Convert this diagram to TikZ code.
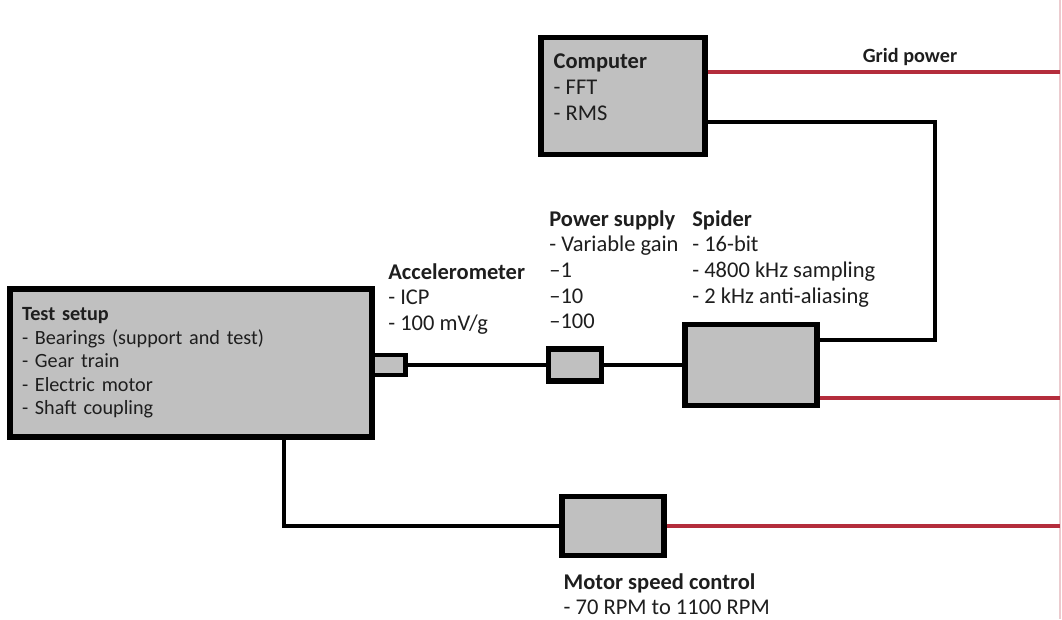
\documentclass[tikz,border=0pt]{standalone}
\usepackage{fontspec}
\setmainfont{Carlito}
\usepackage{tikz}
\usetikzlibrary{positioning, calc}
\definecolor{boxgray}{RGB}{192,192,192}
\definecolor{gridred}{RGB}{180,45,60}
\definecolor{textgray}{RGB}{30,30,30}

\begin{document}
\begin{tikzpicture}[
    x=0.02cm, y=-0.02cm,
    box/.style={draw, fill=boxgray, line width=3pt, inner sep=0pt},
    wire/.style={line width=2.3pt},
    power/.style={line width=2.3pt, draw=gridred},
    bus/.style={line width=0.8pt, draw=gridred!25},
    lbl/.style={align=left, inner sep=0pt, text=textgray,
                font=\fontsize{12.8}{14.6}\selectfont},
  ]
  \path[use as bounding box, fill=white] (0,0) rectangle (1062,619);

  % Equipment
  \node[box, minimum width=7.24cm, minimum height=2.96cm, text width=6.76cm,
        align=left, inner xsep=0.24cm, text=textgray,
        font=\fontsize{11.5}{13.4}\selectfont] (test) at (191,363)
        {\textbf{Test setup}\\- Bearings (support and test)\\- Gear train\\- Electric motor\\- Shaft coupling};
  \node[box, minimum width=0.66cm, minimum height=0.40cm, line width=2.4pt] (accel) at (389,365) {};
  \node[box, minimum width=1.06cm, minimum height=0.64cm] (psu) at (575,365) {};
  \node[box, minimum width=2.64cm, minimum height=1.62cm] (spider) at (751,365) {};
  \node[box, minimum width=3.28cm, minimum height=2.34cm] (comp) at (623,96) {};
  \node[box, minimum width=2.04cm, minimum height=1.18cm] (motor) at (613,526) {};

  % Labels
  \node[lbl, anchor=north west] (accellbl) at (388,263)
        {\textbf{Accelerometer}\\- ICP\\- 100 mV/g};
  \node[lbl, anchor=north west] (psulbl) at (549,210)
        {\textbf{Power supply}\\- Variable gain\\--1\\--10\\--100};
  \node[lbl, anchor=north west] (spiderlbl) at (692,210)
        {\textbf{Spider}\\- 16-bit\\- 4800 kHz sampling\\- 2 kHz anti-aliasing};
  \node[lbl, below right=0.38cm and 0.30cm of comp.north west] (complbl)
        {\textbf{Computer}\\- FFT\\- RMS};
  \node[lbl, below right=0.30cm and 0.08cm of motor.south west] (motorlbl)
        {\textbf{Motor speed control}\\- 70 RPM to 1100 RPM};
  \node[lbl, font=\fontsize{11.5}{13.4}\selectfont] (gridlbl) at (910,57) {\textbf{Grid power}};

  % Signal wiring
  \draw[wire] (accel.east) -- (psu.west);
  \draw[wire] (psu.east) -- (spider.west);
  \draw[wire] ($(comp.east)+(0,26)$) -- ++(227,0) |- ($(spider.east)+(0,-25)$);
  \draw[wire] ($(test.south west)+(277,0)$) |- (motor.west);

  % Grid power
  \coordinate (gridtop) at (1060,0);
  \coordinate (gridbot) at (1060,619);
  \draw[bus] (gridtop) -- (gridbot);
  \coordinate (compout) at ($(comp.east)+(0,-24)$);
  \coordinate (spiderout) at ($(spider.east)+(0,33)$);
  \draw[power] (compout) -- (compout -| gridtop);
  \draw[power] (spiderout) -- (spiderout -| gridtop);
  \draw[power] (motor.east) -- (motor.east -| gridtop);
\end{tikzpicture}
\end{document}
